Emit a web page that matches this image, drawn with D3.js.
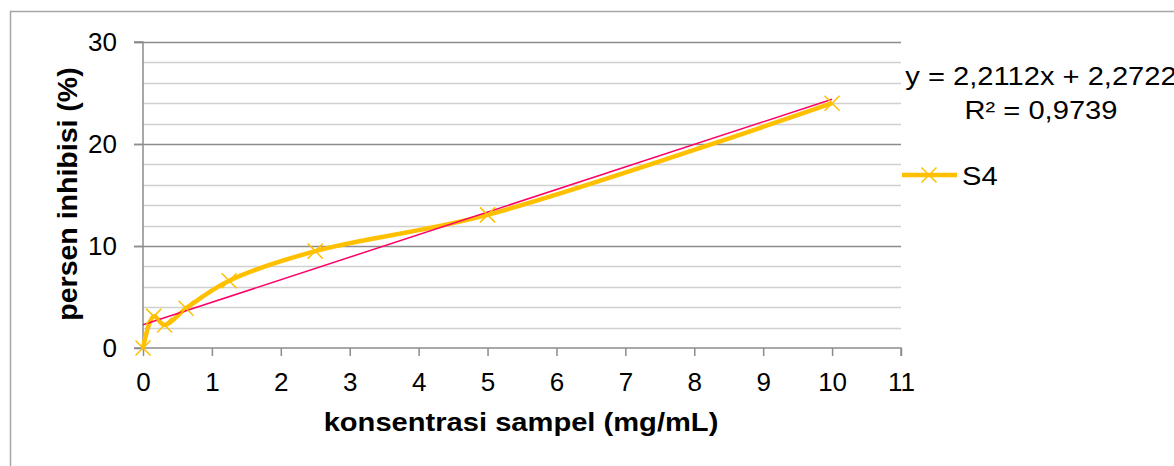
<!DOCTYPE html>
<html>
<head>
<meta charset="utf-8">
<script src="https://cdn.jsdelivr.net/npm/d3@7"></script>
<style>
  body { margin: 0; background: #fff; }
  svg { font-family: "Liberation Sans", Arial, sans-serif; }
</style>
</head>
<body>
<svg width="1174" height="466"></svg>
<script>
// data
var concentrations = [0, 0.156, 0.3125, 0.625, 1.25, 2.5, 5, 10];
var inhibition = [0, 3.1, 2.25, 3.9, 6.6, 9.5, 13.05, 24.0];
var seriesName = "S4";
var slope = 2.2112, intercept = 2.2722;
var equationText = "y = 2,2112x + 2,2722";
var r2Text = "R\u00b2 = 0,9739";
var xTicks = d3.range(0, 12);
var yTicks = [0, 10, 20, 30];
var yMinor = d3.range(0, 31, 2);

var fontSize = 26,
    stretch = 1.12;   // the picture is a bit wider than tall

var svg = d3.select("svg");

// outer chart frame (runs off the image on the right and bottom)
svg.append("rect")
    .attr("x", 10.5).attr("y", 11.5)
    .attr("width", 1300).attr("height", 600)
    .attr("fill", "none").attr("stroke", "#a6a6a6").attr("stroke-width", 1.5);

var x = d3.scaleLinear().domain([0, 11]).range([143, 901]);
var y = d3.scaleLinear().domain([0, 30]).range([348, 42]);

// gridlines
svg.append("g").selectAll("line")
    .data(yMinor.filter(function(d) { return d % 10 != 0; }))
  .enter().append("line")
    .attr("x1", x(0)).attr("x2", x(11))
    .attr("y1", function(d) { return Math.round(y(d)) + 0.5; })
    .attr("y2", function(d) { return Math.round(y(d)) + 0.5; })
    .attr("stroke", "#d0d0d0").attr("stroke-width", 1.5);

svg.append("g").selectAll("line")
    .data(yTicks.filter(function(d) { return d > 0; }))
  .enter().append("line")
    .attr("x1", x(0) - 9).attr("x2", x(11))
    .attr("y1", function(d) { return Math.round(y(d)) + 0.5; })
    .attr("y2", function(d) { return Math.round(y(d)) + 0.5; })
    .attr("stroke", "#8c8c8c").attr("stroke-width", 1.5);

// axes
var yAxis = d3.axisLeft(y).tickValues(yTicks).tickSize(9).tickPadding(17);
var xAxis = d3.axisBottom(x).tickValues(xTicks).tickSize(8).tickPadding(17);

var gy = svg.append("g").attr("transform", "translate(" + x(0) + ",0)").call(yAxis);
var gx = svg.append("g").attr("transform", "translate(0," + y(0) + ")").call(xAxis);

[gx, gy].forEach(function(g) {
  g.select(".domain").attr("stroke", "#8c8c8c").attr("stroke-width", 1.5);
  g.selectAll(".tick line").attr("stroke", "#8c8c8c").attr("stroke-width", 1.5);
  g.selectAll(".tick text")
      .attr("font-family", "Liberation Sans, Arial, sans-serif")
      .attr("font-size", fontSize).attr("fill", "#000");
});
gy.select(".domain").attr("d", "M-9," + y(30) + "H0V" + y(0) + "H-9");
gx.select(".domain").attr("d", "M" + x(0) + ",0H" + x(11) + "V8");

// horizontal text, widened a little like the picture
function label(px, py, txt, anchor, bold) {
  return svg.append("text")
      .attr("transform", "translate(" + px + "," + py + ") scale(" + stretch + ",1)")
      .attr("text-anchor", anchor)
      .attr("font-size", fontSize)
      .attr("font-weight", bold ? "bold" : "normal")
      .text(txt);
}

// axis titles
label(521, 431, "konsentrasi sampel (mg/mL)", "middle", true);

svg.append("text")
    .attr("transform", "translate(77,194) rotate(-90)")
    .attr("text-anchor", "middle")
    .attr("font-size", 28.5).attr("font-weight", "bold")
    .text("persen inhibisi (%)");

// data series (smoothed)
var pts = concentrations.map(function(c, i) { return [c, inhibition[i]]; });

var line = d3.line()
    .x(function(d) { return x(d[0]); })
    .y(function(d) { return y(d[1]); })
    .curve(d3.curveCatmullRom.alpha(0.5));

svg.append("path")
    .datum(pts)
    .attr("d", line)
    .attr("fill", "none")
    .attr("stroke", "#ffc000")
    .attr("stroke-width", 4.5)
    .attr("stroke-linejoin", "round");

// linear trendline
svg.append("line")
    .attr("x1", x(0)).attr("y1", y(intercept))
    .attr("x2", x(10)).attr("y2", y(slope * 10 + intercept))
    .attr("stroke", "#ff0066").attr("stroke-width", 1.5);

// markers
var m = 7.5;
function cross(g) {
  g.append("path")
      .attr("d", "M" + (-m) + "," + (-m) + "L" + m + "," + m + "M" + (-m) + "," + m + "L" + m + "," + (-m))
      .attr("stroke", "#ffc000").attr("stroke-width", 1.5).attr("fill", "none");
}
svg.append("g").selectAll("g")
    .data(pts)
  .enter().append("g")
    .attr("transform", function(d) { return "translate(" + x(d[0]) + "," + y(d[1]) + ")"; })
    .each(function() { cross(d3.select(this)); });

// trendline label (cut off at the right edge, as in the picture)
label(1041, 85, equationText, "middle", false);
label(1041, 119, r2Text, "middle", false);

// legend
var lg = svg.append("g").attr("transform", "translate(902,175)");
lg.append("line")
    .attr("x1", 0).attr("x2", 55)
    .attr("stroke", "#ffc000").attr("stroke-width", 4.5);
lg.append("g").attr("transform", "translate(27,0)").call(cross);
label(962, 185, seriesName, "start", false);
</script>
</body>
</html>
